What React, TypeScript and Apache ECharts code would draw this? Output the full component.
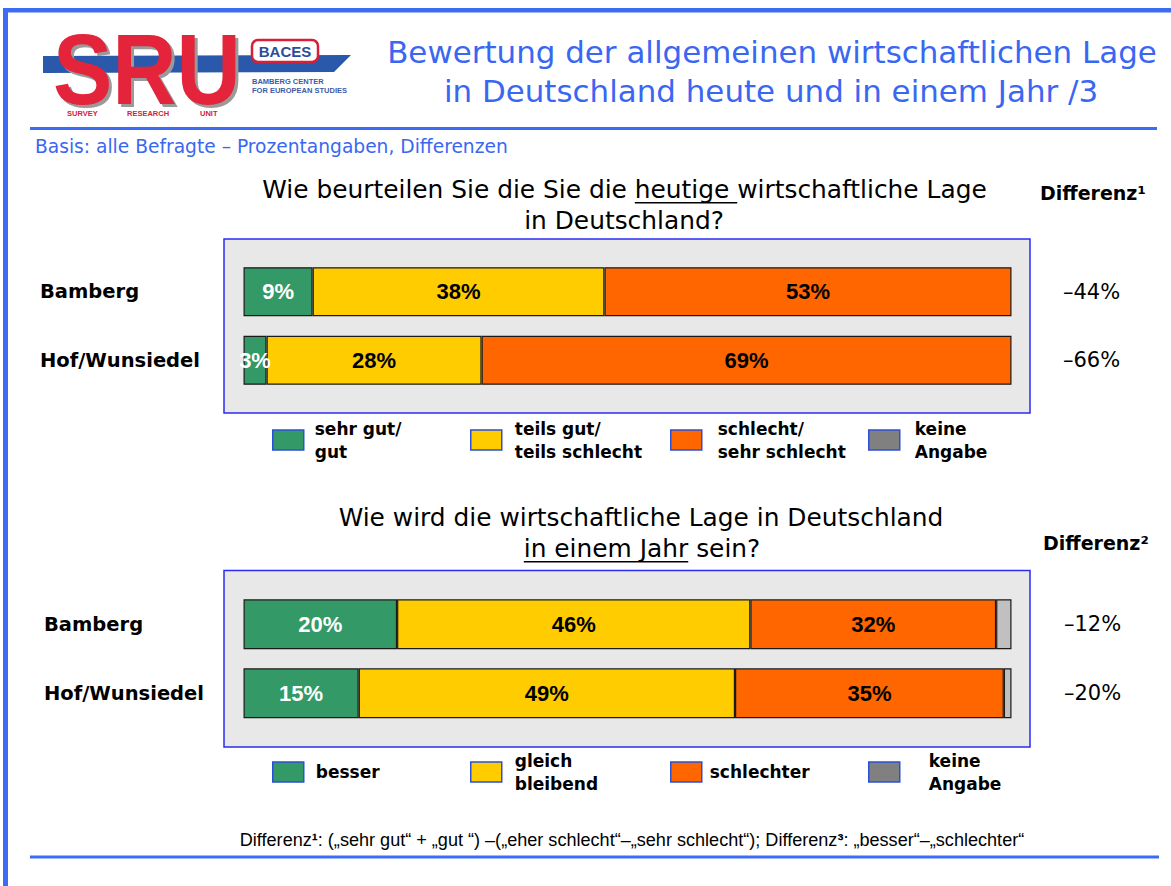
import React, { useEffect, useRef } from 'react';
import * as echarts from 'echarts';

// ---------- data ----------
const categories = ['Bamberg', 'Hof/Wunsiedel'];

const topSeriesNames = ['sehr gut/\ngut', 'teils gut/\nteils schlecht', 'schlecht/\nsehr schlecht'];
const topGood = [9, 3];
const topMixed = [38, 28];
const topBad = [53, 69];
const topDiff = [-44, -66];

const bottomSeriesNames = ['besser', 'gleich\nbleibend', 'schlechter', 'keine\nAngabe'];
const bottomBetter = [20, 15];
const bottomSame = [46, 49];
const bottomWorse = [32, 35];
const bottomNone = [2, 1];
const bottomDiff = [-12, -20];

const title1 = 'Bewertung der allgemeinen wirtschaftlichen Lage';
const title2 = 'in Deutschland heute und in einem Jahr /3';
const subtitle = 'Basis: alle Befragte – Prozentangaben, Differenzen';
const q1Prefix = 'Wie beurteilen Sie die Sie die ';
const q1Under = 'heutige ';
const q1Suffix = 'wirtschaftliche Lage';
const q1Line2 = 'in Deutschland?';
const q2Line1 = 'Wie wird die wirtschaftliche Lage in Deutschland';
const q2Under = 'in einem Jahr';
const q2Suffix = ' sein?';
const diffHeader1 = 'Differenz¹';
const diffHeader2 = 'Differenz²';

// ---------- styles ----------
const FONT = 'DejaVu Sans';
const ARIAL = 'Liberation Sans';
const BLUE = '#3c6cf6';
const BLUE_TEXT = '#3a67f2';
const COLORS = ['#339966', '#ffcc00', '#ff6600', '#c0c0c0'];
const LEGEND_GREY = '#808080';

function textWidth(text: string, font: string) {
  const ctx = document.createElement('canvas').getContext('2d')!;
  ctx.font = font;
  return ctx.measureText(text).width;
}
function fitSize(text: string, weight: string, family: string, target: number) {
  const w = textWidth(text, `${weight} 100px ${family}`);
  return (100 * target) / w;
}
const fmtDiff = (v: number) => (v < 0 ? '–' : '+') + Math.abs(v) + '%';

function buildOption() {
  const titleSize = fitSize(title1, 'normal', FONT, 770);
  const subSize = fitSize(subtitle, 'normal', FONT, 473);
  const q1Full = q1Prefix + q1Under + q1Suffix;
  const qSize = fitSize(q1Full, 'normal', FONT, 725);
  const qFont = `normal ${qSize}px ${FONT}`;

  const footerPlain = 'Differenz¹: („sehr gut“ + „gut “) –(„eher schlecht“–„sehr schlecht“); Differenz³: „besser“–„schlechter“';
  const footSize = fitSize(footerPlain, 'normal', ARIAL, 785);

  // underline positions
  const q1cx = 624.5;
  const q1W = textWidth(q1Full, qFont);
  const q1uStart = q1cx - q1W / 2 + textWidth(q1Prefix, qFont);
  const q1uW = textWidth(q1Under, qFont);
  const q2cx = 642;
  const q2l2 = q2Under + q2Suffix;
  const q2W = textWidth(q2l2, qFont);
  const q2uStart = q2cx - q2W / 2;
  const q2uW = textWidth(q2Under, qFont);

  const txt = (text: string, x: number, y: number, extra: any = {}) => ({
    type: 'text',
    x,
    y,
    style: { text, fill: '#000', fontFamily: FONT, fontSize: qSize, align: 'center', verticalAlign: 'middle', ...extra },
  });

  const graphic: any[] = [
    // frame
    { type: 'rect', shape: { x: 3, y: 8, width: 5, height: 878 }, style: { fill: BLUE } },
    { type: 'rect', shape: { x: 3, y: 8, width: 1168, height: 4.5 }, style: { fill: BLUE } },
    { type: 'rect', shape: { x: 30, y: 127, width: 1127, height: 3 }, style: { fill: BLUE } },
    { type: 'rect', shape: { x: 30, y: 855.5, width: 1129, height: 3 }, style: { fill: BLUE } },
    // chart boxes
    { type: 'rect', z: -1, shape: { x: 224, y: 239, width: 806, height: 174 }, style: { fill: '#e8e8e8', stroke: '#2b2bf2', lineWidth: 1.5 } },
    { type: 'rect', z: -1, shape: { x: 224, y: 570.5, width: 806, height: 176.5 }, style: { fill: '#e8e8e8', stroke: '#2b2bf2', lineWidth: 1.5 } },
    // logo
    { type: 'polygon', shape: { points: [[43, 56], [351, 55], [334, 72], [43, 73]] }, style: { fill: '#2a58aa' } },
    { type: 'text', x: 56, y: 72, scaleX: 0.89, style: { text: 'SRU', fill: '#9a9a9a', fontFamily: ARIAL, fontWeight: 'bold', fontSize: 100, align: 'left', verticalAlign: 'middle' } },
    { type: 'text', x: 53, y: 69, scaleX: 0.89, style: { text: 'SRU', fill: '#e3243b', fontFamily: ARIAL, fontWeight: 'bold', fontSize: 100, align: 'left', verticalAlign: 'middle' } },
    { type: 'rect', shape: { x: 252, y: 40, width: 66, height: 22, r: 6 }, style: { fill: '#fff', stroke: '#d6203a', lineWidth: 2.5 } },
    txt('BACES', 285, 51.5, { fontFamily: ARIAL, fontWeight: 'bold', fontSize: 15, fill: '#2b4c9b' }),
    txt('BAMBERG CENTER', 252, 81, { fontFamily: ARIAL, fontWeight: 'bold', fontSize: 7.5, fill: '#3e5ba8', align: 'left' }),
    txt('FOR EUROPEAN STUDIES', 252, 90.5, { fontFamily: ARIAL, fontWeight: 'bold', fontSize: 7.5, fill: '#3e5ba8', align: 'left' }),
    txt('SURVEY', 67, 113, { fontFamily: ARIAL, fontWeight: 'bold', fontSize: 7.5, fill: '#d6203a', align: 'left' }),
    txt('RESEARCH', 127, 113, { fontFamily: ARIAL, fontWeight: 'bold', fontSize: 7.5, fill: '#d6203a', align: 'left' }),
    txt('UNIT', 200, 113, { fontFamily: ARIAL, fontWeight: 'bold', fontSize: 7.5, fill: '#d6203a', align: 'left' }),
    // title
    txt(title1, 772, 52, { fontSize: titleSize, fill: BLUE_TEXT }),
    txt(title2, 771, 91, { fontSize: titleSize, fill: BLUE_TEXT }),
    txt(subtitle, 35, 146, { fontSize: subSize, fill: BLUE_TEXT, align: 'left' }),
    // question 1
    txt(q1Full, q1cx, 189),
    txt(q1Line2, 624, 220),
    { type: 'rect', shape: { x: q1uStart, y: 202, width: q1uW, height: 1.6 }, style: { fill: '#000' } },
    txt(diffHeader1, 1040, 193, { fontWeight: 'bold', fontSize: 19, align: 'left' }),
    // question 2
    txt(q2Line1, 641, 517),
    txt(q2l2, q2cx, 548),
    { type: 'rect', shape: { x: q2uStart, y: 561, width: q2uW, height: 1.6 }, style: { fill: '#000' } },
    txt(diffHeader2, 1043, 543, { fontWeight: 'bold', fontSize: 19, align: 'left' }),
    // footer
    {
      type: 'text',
      x: 632,
      y: 840,
      style: {
        text: '{n|Differenz}{s|¹}{n|: („sehr gut“ + „gut “) –(„eher schlecht“–„sehr schlecht“); Differenz}{s|³}{n|: „besser“–„schlechter“}',
        align: 'center',
        verticalAlign: 'middle',
        rich: {
          n: { fontFamily: ARIAL, fontSize: footSize, fill: '#000' },
          s: { fontFamily: ARIAL, fontSize: footSize, fontWeight: 'bold', fill: '#000' },
        },
      },
    },
  ];

  const legendLefts = [272, 470, 670, 868];
  const topGaps = [11, 13, 16, 15];
  const botGaps = [12, 13, 8, 29];
  const topLegendNames = [...topSeriesNames, bottomSeriesNames[3]];
  const mkLegend = (name: string, left: number, centerY: number, gap: number, grey: boolean) => {
    const lines = name.split('\n').length;
    return {
      show: true,
      left,
      top: centerY - (lines * 23) / 2,
      padding: 0,
      orient: 'horizontal',
      selectedMode: false,
      itemWidth: 31,
      itemHeight: 20,
      icon: 'rect',
      itemStyle: { borderColor: '#2b4fd8', borderWidth: 1.5 },
      textStyle: { fontFamily: FONT, fontWeight: 'bold', fontSize: 17, lineHeight: 23, color: '#000', padding: [0, 0, 0, gap - 5] },
      data: [grey ? { name, itemStyle: { color: LEGEND_GREY } } : name],
    };
  };
  const legend = [
    ...topLegendNames.map((n, i) => mkLegend(n, legendLefts[i], 440, topGaps[i], i === 3)),
    ...bottomSeriesNames.map((n, i) => mkLegend(n, legendLefts[i], 772, botGaps[i], i === 3)),
  ];

  const grid = [
    { left: 243.5, top: 257.4, width: 768, height: 137.2, outerBoundsMode: 'none' },
    { left: 243.5, top: 589.8, width: 768, height: 138, outerBoundsMode: 'none' },
  ];
  const xAxis = [0, 1].map((g) => ({ type: 'value', gridIndex: g, min: 0, max: 100, show: false }));
  const leftAxis = (g: number, margin: number, pad: number) => ({
    type: 'category',
    gridIndex: g,
    data: categories,
    inverse: true,
    position: 'left',
    axisLine: { show: false },
    axisTick: { show: false },
    splitLine: { show: false },
    axisLabel: { margin, align: 'left', fontFamily: FONT, fontWeight: 'bold', fontSize: 19.5, color: '#000', padding: [0, 0, pad, 0] },
  });
  const rightAxis = (g: number, diffs: number[], margin: number, pad: number) => ({
    type: 'category',
    gridIndex: g,
    data: categories,
    inverse: true,
    position: 'right',
    axisLine: { show: false },
    axisTick: { show: false },
    splitLine: { show: false },
    axisLabel: {
      margin,
      align: 'left',
      fontFamily: FONT,
      fontSize: 21,
      color: '#000',
      padding: [0, 0, pad, 0],
      formatter: (_v: string, i: number) => fmtDiff(diffs[i]),
    },
  });
  const yAxis = [leftAxis(0, 203.5, 6), rightAxis(0, topDiff, 51.5, 6), leftAxis(1, 199.5, 2), rightAxis(1, bottomDiff, 52.5, 2)];

  const mkBar = (name: string, data: number[], color: string, g: number, labelColor: string, showLabel = true, z = 2) => ({
    type: 'bar',
    name,
    data,
    z,
    stack: 'g' + g,
    xAxisIndex: g,
    yAxisIndex: g * 2,
    barWidth: g ? 50 : 49,
    itemStyle: { color, borderColor: '#1a1a1a', borderWidth: 1.2 },
    label: { show: showLabel, position: 'inside', formatter: '{c}%', fontFamily: ARIAL, fontWeight: 'bold', fontSize: 22, color: labelColor },
    emphasis: { disabled: true },
  });

  const series = [
    mkBar(topSeriesNames[1], topMixed, COLORS[1], 0, '#000'),
    mkBar(topSeriesNames[0], topGood, COLORS[0], 0, '#fff', true, 3),
    mkBar(topSeriesNames[2], topBad, COLORS[2], 0, '#000'),
    mkBar(bottomSeriesNames[0], bottomBetter, COLORS[0], 1, '#fff', true, 3),
    mkBar(bottomSeriesNames[1], bottomSame, COLORS[1], 1, '#000'),
    mkBar(bottomSeriesNames[2], bottomWorse, COLORS[2], 1, '#000'),
    mkBar(bottomSeriesNames[3], bottomNone, COLORS[3], 1, '#000', false),
  ];
  // keep stacking order: green first, then yellow, then orange
  const ordered = [series[1], series[0], ...series.slice(2)];

  return {
    animation: false,
    backgroundColor: '#fff',
    tooltip: { show: false },
    grid,
    xAxis,
    yAxis,
    legend,
    series: ordered,
    graphic,
  };
}

export default function App() {
  const ref = useRef<HTMLDivElement>(null);
  useEffect(() => {
    document.body.style.margin = '0';
    const chart = echarts.init(ref.current!, null, { renderer: 'svg' });
    chart.setOption(buildOption() as any);
    return () => chart.dispose();
  }, []);
  return <div ref={ref} style={{ width: 1171, height: 886 }} />;
}
